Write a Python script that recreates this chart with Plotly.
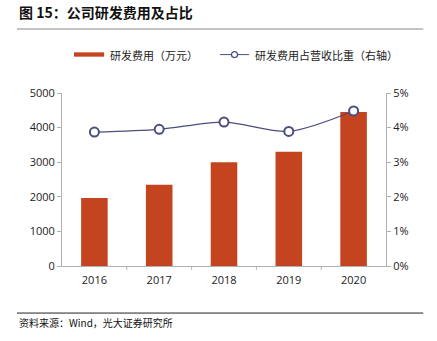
import plotly.graph_objects as go

# Data
years = ["2016", "2017", "2018", "2019", "2020"]
rd_expense = [1965, 2350, 3000, 3300, 4450]          # 万元
rd_ratio = [0.0387, 0.0395, 0.0416, 0.0389, 0.0448]  # 占营收比重

left_ticks = [0, 1000, 2000, 3000, 4000, 5000]
right_ticks = [0, 0.01, 0.02, 0.03, 0.04, 0.05]
right_labels = ["0%", "1%", "2%", "3%", "4%", "5%"]

BAR_COLOR = "#C4441F"
LINE_COLOR = "#4B4D7D"
AXIS_COLOR = "#B0B0B0"
FONT = "Noto Sans CJK SC"

fig = go.Figure()

fig.add_trace(go.Bar(
    x=years, y=rd_expense, name="研发费用（万元）",
    marker=dict(color=BAR_COLOR, line=dict(width=0)),
    width=0.41, showlegend=False,
))

fig.add_trace(go.Scatter(
    x=years, y=rd_ratio, name="研发费用占营收比重（右轴）", yaxis="y2",
    mode="lines+markers",
    line=dict(color=LINE_COLOR, width=1.3, shape="spline", smoothing=0.8),
    marker=dict(symbol="circle", size=9, color="white",
                line=dict(color=LINE_COLOR, width=2)),
    showlegend=False, cliponaxis=False,
))

fig.update_layout(
    width=437, height=341,
    margin=dict(l=62, r=51, t=93, b=75),
    paper_bgcolor="white", plot_bgcolor="white",
    font=dict(family=FONT, size=11, color="#222222"),
    bargap=0.59,
    xaxis=dict(
        type="category", showgrid=False, showline=True, linecolor=AXIS_COLOR,
        linewidth=1, ticks="", tickfont=dict(family="Open Sans", size=11, color="#222"),
        ticklabelstandoff=4,
    ),
    yaxis=dict(
        range=[0, 5000], tickvals=left_ticks, showgrid=False, showline=True,
        linecolor=AXIS_COLOR, linewidth=1, ticks="outside", ticklen=4,
        tickcolor=AXIS_COLOR, tickfont=dict(family="Open Sans", size=11, color="#222"),
        zeroline=False,
    ),
    yaxis2=dict(
        range=[0, 0.05], tickvals=right_ticks, ticktext=right_labels,
        overlaying="y", side="right", showgrid=False, showline=True,
        linecolor=AXIS_COLOR, linewidth=1, ticks="outside", ticklen=4,
        tickcolor=AXIS_COLOR, tickfont=dict(family="Open Sans", size=11, color="#222"),
        zeroline=False,
    ),
)

# Category separator ticks along the x axis
for i in range(1, len(years)):
    fig.add_shape(type="line", xref="x", yref="paper",
                  x0=i - 0.5, x1=i - 0.5, y0=0, y1=-0.022,
                  line=dict(color=AXIS_COLOR, width=1))

# Title and rules
fig.add_annotation(text="<b>图 15：公司研发费用及占比</b>", xref="paper", yref="paper",
                   x=-0.139, y=1.468, xanchor="left", yanchor="middle",
                   showarrow=False, font=dict(family=FONT, size=14, color="#111"))
fig.add_shape(type="line", xref="paper", yref="paper",
              x0=-0.139, x1=1.115, y0=1.37, y1=1.37,
              line=dict(color="#8a8a8a", width=1.2))
fig.add_shape(type="line", xref="paper", yref="paper",
              x0=-0.139, x1=1.115, y0=-0.272, y1=-0.272,
              line=dict(color="#222", width=1))
fig.add_annotation(text="资料来源：Wind，光大证券研究所", xref="paper", yref="paper",
                   x=-0.139, y=-0.325, xanchor="left", yanchor="middle",
                   showarrow=False, font=dict(family=FONT, size=10, color="#111"))

# Legend drawn by hand
fig.add_shape(type="rect", xref="paper", yref="paper",
              x0=0.037, x1=0.13, y0=1.21, y1=1.235,
              fillcolor=BAR_COLOR, line=dict(width=0))
fig.add_annotation(text="研发费用（万元）", xref="paper", yref="paper",
                   x=0.142, y=1.222, xanchor="left", yanchor="middle",
                   showarrow=False, font=dict(family=FONT, size=11, color="#222"))
fig.add_shape(type="line", xref="paper", yref="paper",
              x0=0.488, x1=0.577, y0=1.222, y1=1.222,
              line=dict(color=LINE_COLOR, width=1))
fig.add_shape(type="circle", xref="paper", yref="paper",
              x0=0.523, x1=0.542, y0=1.205, y1=1.239,
              fillcolor="white", line=dict(color=LINE_COLOR, width=1.3))
fig.add_annotation(text="研发费用占营收比重（右轴）", xref="paper", yref="paper",
                   x=0.59, y=1.222, xanchor="left", yanchor="middle",
                   showarrow=False, font=dict(family=FONT, size=11, color="#222"))

fig.write_html("out.html")
